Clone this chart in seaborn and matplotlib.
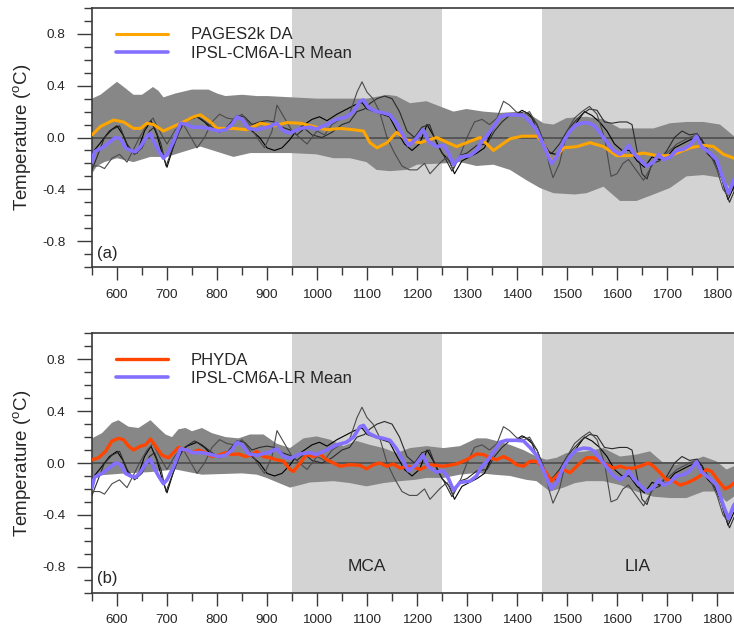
import numpy as np
import matplotlib
matplotlib.use("Agg")
import matplotlib.pyplot as plt
import seaborn as sns
from matplotlib.ticker import MultipleLocator

# ---- values ----
# IPSL-CM6A-LR ensemble mean (same in both panels)
mean_years = [550, 555, 570, 587, 597, 607, 617, 627, 637, 647, 660, 667, 673, 683, 693, 700,
              713, 727, 740, 750, 770, 783, 803, 817, 830, 840, 850, 863, 880, 906, 919, 933,
              946, 966, 986, 999, 1019, 1039, 1059, 1073, 1086, 1093, 1103, 1119, 1133, 1146,
              1159, 1173, 1183, 1196, 1212, 1223, 1239, 1253, 1263, 1273, 1286, 1306, 1319,
              1329, 1339, 1356, 1366, 1379, 1399, 1413, 1426, 1439, 1453, 1463, 1469, 1479,
              1493, 1506, 1519, 1533, 1546, 1556, 1566, 1579, 1593, 1606, 1616, 1623, 1633,
              1646, 1659, 1673, 1683, 1693, 1706, 1719, 1733, 1746, 1759, 1769, 1786, 1799,
              1813, 1823, 1833, 1845]
mean_vals = [-0.19, -0.11, -0.08, -0.03, 0.00, -0.01, -0.08, -0.10, -0.11, -0.07, 0.01, 0.03,
             -0.03, -0.10, -0.16, -0.13, -0.03, 0.11, 0.10, 0.08, 0.08, 0.07, 0.05, 0.06, 0.10,
             0.16, 0.14, 0.07, 0.06, 0.085, 0.11, 0.05, 0.035, 0.07, 0.08, 0.065, 0.10, 0.14,
             0.16, 0.20, 0.28, 0.29, 0.23, 0.20, 0.19, 0.175, 0.11, 0.01, -0.06, -0.02, 0.06,
             -0.03, -0.07, -0.06, -0.12, -0.21, -0.15, -0.14, -0.10, -0.03, 0.01, 0.10, 0.16,
             0.175, 0.175, 0.17, 0.12, 0.06, -0.06, -0.15, -0.20, -0.15, -0.03, 0.05, 0.10,
             0.115, 0.11, 0.085, 0.035, -0.03, -0.10, -0.13, -0.10, -0.06, -0.12, -0.17, -0.22,
             -0.19, -0.13, -0.17, -0.15, -0.10, -0.09, -0.06, 0.01, -0.07, -0.12, -0.17, -0.33,
             -0.43, -0.33, -0.26]

# three individual members
m1_years = [550, 565, 585, 600, 612, 625, 640, 655, 668, 680, 690, 700, 712, 725, 740, 760, 775,
            790, 810, 825, 840, 855, 870, 885, 900, 915, 930, 945, 960, 975, 990, 1005, 1020,
            1040, 1060, 1075, 1090, 1100, 1115, 1130, 1145, 1160, 1175, 1190, 1205, 1220, 1235,
            1250, 1265, 1275, 1290, 1305, 1320, 1335, 1350, 1365, 1380, 1395, 1410, 1425, 1440,
            1455, 1465, 1478, 1490, 1505, 1520, 1535, 1550, 1565, 1580, 1595, 1610, 1625, 1640,
            1655, 1670, 1685, 1700, 1715, 1730, 1745, 1760, 1770, 1780, 1795, 1810, 1822, 1834,
            1845]
m1_vals = [-0.12, -0.05, 0.05, 0.09, 0.02, -0.10, -0.12, 0.05, 0.13, 0.02, -0.12, -0.23, -0.08,
           0.08, 0.13, 0.16, 0.12, 0.06, 0.05, 0.10, 0.17, 0.12, 0.05, 0.00, -0.08, -0.10, -0.08,
           -0.02, 0.06, 0.10, 0.14, 0.16, 0.13, 0.18, 0.22, 0.25, 0.27, 0.22, 0.20, 0.18, 0.16,
           0.05, -0.05, -0.10, -0.05, 0.10, 0.00, -0.12, -0.18, -0.28, -0.18, -0.15, -0.12,
           -0.08, 0.05, 0.15, 0.18, 0.17, 0.21, 0.18, 0.10, -0.05, -0.12, -0.13, -0.08, 0.05,
           0.12, 0.20, 0.17, 0.12, 0.05, -0.05, -0.10, -0.10, -0.18, -0.23, -0.15, -0.17, -0.15,
           -0.08, -0.05, -0.02, 0.00, -0.02, -0.12, -0.18, -0.32, -0.48, -0.38, -0.30]

m2_years = [550, 560, 575, 590, 605, 620, 635, 650, 665, 675, 688, 698, 710, 725, 735, 755, 770,
            790, 805, 820, 840, 855, 870, 885, 900, 915, 930, 945, 960, 975, 990, 1010, 1030,
            1050, 1065, 1080, 1095, 1105, 1120, 1135, 1150, 1165, 1180, 1195, 1210, 1225, 1240,
            1255, 1270, 1285, 1300, 1320, 1340, 1355, 1370, 1385, 1400, 1415, 1430, 1445, 1460,
            1470, 1485, 1500, 1515, 1530, 1545, 1560, 1575, 1590, 1605, 1620, 1630, 1640, 1650,
            1660, 1670, 1685, 1700, 1715, 1730, 1745, 1760, 1770, 1790, 1805, 1815, 1825, 1834,
            1845]
m2_vals = [-0.25, -0.15, 0.00, 0.06, 0.09, -0.05, -0.13, -0.08, 0.05, 0.08, -0.05, -0.22, -0.10,
           0.05, 0.12, 0.17, 0.14, 0.08, 0.04, 0.08, 0.17, 0.16, 0.10, 0.12, 0.13, 0.12, 0.08,
           0.06, 0.02, 0.07, 0.02, 0.00, 0.04, 0.10, 0.12, 0.20, 0.22, 0.26, 0.30, 0.32, 0.30,
           0.20, 0.05, 0.00, 0.08, 0.10, -0.05, -0.15, -0.26, -0.14, -0.12, -0.06, -0.05, 0.05,
           0.12, 0.17, 0.18, 0.20, 0.15, 0.00, -0.10, -0.12, -0.05, 0.05, 0.12, 0.18, 0.22,
           0.21, 0.12, 0.11, 0.12, 0.12, 0.10, -0.10, -0.28, -0.32, -0.20, -0.18, -0.10, 0.00,
           0.05, 0.02, 0.03, -0.02, -0.15, -0.25, -0.40, -0.50, -0.42, -0.35]

m3_years = [550, 565, 575, 590, 605, 620, 632, 645, 660, 672, 685, 700, 715, 730, 745, 760, 775,
            790, 805, 820, 835, 850, 865, 880, 895, 910, 920, 935, 950, 965, 980, 1000, 1015,
            1030, 1050, 1065, 1080, 1090, 1100, 1112, 1125, 1140, 1155, 1170, 1185, 1200, 1215,
            1226, 1245, 1260, 1272, 1285, 1300, 1315, 1330, 1345, 1360, 1373, 1385, 1398, 1410,
            1425, 1440, 1455, 1465, 1472, 1485, 1500, 1515, 1530, 1545, 1560, 1575, 1588, 1600,
            1612, 1623, 1638, 1653, 1665, 1680, 1700, 1720, 1745, 1760, 1770, 1785, 1800, 1812,
            1822, 1834, 1845]
m3_vals = [-0.22, -0.22, -0.24, -0.16, -0.13, -0.19, -0.10, 0.00, 0.10, 0.15, 0.05, -0.05, 0.05,
           0.12, 0.02, -0.08, 0.00, 0.12, 0.18, 0.15, 0.14, 0.18, 0.10, 0.00, -0.08, 0.05, 0.25,
           0.15, 0.05, 0.00, -0.05, 0.05, 0.02, 0.10, 0.15, 0.18, 0.35, 0.43, 0.35, 0.30, 0.20,
           0.00, -0.12, -0.22, -0.25, -0.25, -0.20, -0.28, -0.20, -0.15, -0.25, -0.15, 0.00,
           0.12, 0.14, 0.10, 0.15, 0.28, 0.25, 0.20, 0.17, 0.20, 0.10, -0.05, -0.22, -0.31,
           -0.20, 0.05, 0.15, 0.20, 0.24, 0.18, 0.00, -0.30, -0.28, -0.20, -0.17, -0.25, -0.33,
           -0.25, -0.15, -0.12, -0.05, 0.00, 0.02, -0.05, -0.12, -0.25, -0.40, -0.45, -0.35,
           -0.30]

# PAGES2k DA reconstruction and its range
pages_years = [550, 567, 593, 613, 633, 647, 660, 673, 693, 713, 733, 753, 767, 787, 800, 833, 860,
               887, 913, 940, 967, 993, 1020, 1047, 1073, 1093, 1106, 1120, 1140, 1159, 1180,
               1206, 1239, 1279, 1306, 1326, 1353, 1386, 1410, 1440, 1452, 1469, 1493, 1520,
               1546, 1573, 1599, 1626, 1653, 1680, 1706, 1746, 1773, 1793, 1813, 1834, 1845]
pages_vals = [0.02, 0.085, 0.135, 0.12, 0.07, 0.07, 0.11, 0.10, 0.05, 0.085, 0.12, 0.16, 0.175,
              0.12, 0.07, 0.07, 0.06, 0.11, 0.09, 0.115, 0.11, 0.085, 0.06, 0.07, 0.06, 0.05,
              -0.04, -0.08, -0.04, 0.04, -0.02, -0.04, 0.00, -0.07, -0.03, 0.00, -0.10, -0.01,
              0.01, 0.01, -0.04, -0.19, -0.08, -0.07, -0.04, -0.07, -0.14, -0.14, -0.12, -0.14,
              -0.14, -0.08, -0.06, -0.07, -0.13, -0.16, -0.16]
pages_up_years = [550, 567, 600, 617, 633, 650, 672, 683, 693, 717, 750, 783, 800, 817, 850, 880,
                  900, 950, 1000, 1033, 1100, 1140, 1159, 1186, 1219, 1246, 1273, 1299, 1333,
                  1366, 1406, 1433, 1453, 1473, 1499, 1539, 1573, 1606, 1640, 1673, 1706, 1739,
                  1773, 1806, 1834, 1845]
pages_up_vals = [0.30, 0.33, 0.43, 0.38, 0.33, 0.33, 0.39, 0.36, 0.31, 0.34, 0.37, 0.37, 0.34,
                 0.32, 0.33, 0.32, 0.32, 0.31, 0.30, 0.30, 0.30, 0.33, 0.32, 0.265, 0.28, 0.24,
                 0.20, 0.22, 0.20, 0.19, 0.20, 0.16, 0.11, 0.10, 0.15, 0.16, 0.14, 0.07, 0.07,
                 0.07, 0.11, 0.12, 0.12, 0.10, 0.01, -0.01]
pages_lo_years = [550, 560, 575, 600, 633, 667, 700, 733, 767, 800, 833, 867, 900, 946, 999, 1033,
                  1066, 1099, 1119, 1146, 1179, 1200, 1253, 1286, 1319, 1353, 1386, 1419, 1446,
                  1473, 1516, 1539, 1573, 1606, 1639, 1673, 1706, 1739, 1773, 1806, 1834, 1845]
pages_lo_vals = [-0.28, -0.22, -0.19, -0.16, -0.19, -0.15, -0.15, -0.11, -0.07, -0.11, -0.15,
                 -0.12, -0.12, -0.12, -0.13, -0.16, -0.16, -0.19, -0.25, -0.26, -0.25, -0.21,
                 -0.20, -0.19, -0.22, -0.21, -0.25, -0.33, -0.39, -0.43, -0.44, -0.43, -0.38,
                 -0.49, -0.49, -0.44, -0.39, -0.30, -0.29, -0.31, -0.42, -0.44]

# PHYDA reconstruction and its range
phyda_years = [550, 563, 577, 590, 603, 613, 623, 633, 647, 657, 667, 677, 690, 703, 713, 723, 737,
               750, 763, 777, 790, 803, 817, 830, 843, 857, 870, 879, 893, 906, 919, 933, 946,
               953, 966, 979, 993, 1006, 1019, 1033, 1046, 1066, 1086, 1099, 1113, 1126, 1139,
               1153, 1166, 1179, 1196, 1206, 1226, 1253, 1279, 1299, 1319, 1333, 1346, 1359,
               1373, 1386, 1399, 1413, 1426, 1439, 1449, 1459, 1469, 1479, 1493, 1506, 1526,
               1539, 1553, 1566, 1579, 1593, 1606, 1619, 1633, 1646, 1663, 1673, 1686, 1699,
               1713, 1726, 1739, 1753, 1766, 1779, 1789, 1803, 1816, 1826, 1834, 1845]
phyda_vals = [0.025, 0.04, 0.09, 0.17, 0.19, 0.18, 0.13, 0.10, 0.13, 0.14, 0.185, 0.13, 0.06,
              0.04, 0.08, 0.12, 0.10, 0.08, 0.10, 0.08, 0.05, 0.06, 0.08, 0.065, 0.07, 0.05,
              0.065, 0.09, 0.05, 0.04, 0.025, 0.013, -0.05, -0.065, 0.00, 0.065, 0.05, 0.07,
              0.025, 0.00, -0.025, -0.013, -0.018, -0.045, -0.013, 0.00, -0.025, -0.008, -0.04,
              -0.025, -0.035, -0.05, -0.013, -0.025, -0.008, 0.025, 0.07, 0.065, 0.04, 0.025,
              0.05, 0.025, -0.013, -0.025, 0.013, 0.013, -0.025, -0.08, -0.14, -0.10, -0.05,
              -0.075, 0.00, 0.04, 0.04, 0.013, -0.013, -0.04, -0.025, -0.04, -0.04, -0.025, 0.00,
              -0.025, -0.075, -0.13, -0.14, -0.17, -0.155, -0.13, -0.10, -0.05, -0.065, -0.14,
              -0.20, -0.18, -0.155, -0.16]
phyda_up_years = [550, 570, 590, 603, 623, 643, 667, 683, 697, 710, 723, 737, 750, 770, 790, 817,
                  843, 866, 893, 919, 946, 973, 999, 1026, 1053, 1079, 1106, 1133, 1159, 1186,
                  1219, 1253, 1286, 1319, 1339, 1359, 1386, 1413, 1439, 1459, 1479, 1499, 1539,
                  1573, 1606, 1639, 1666, 1693, 1719, 1746, 1773, 1799, 1819, 1834, 1845]
phyda_up_vals = [0.19, 0.23, 0.31, 0.33, 0.28, 0.27, 0.33, 0.27, 0.22, 0.20, 0.26, 0.27, 0.245,
                 0.27, 0.23, 0.20, 0.19, 0.22, 0.22, 0.15, 0.115, 0.19, 0.205, 0.18, 0.13, 0.17,
                 0.14, 0.115, 0.077, 0.115, 0.13, 0.115, 0.13, 0.19, 0.19, 0.17, 0.14, 0.10,
                 0.05, 0.025, 0.04, 0.077, 0.09, 0.115, 0.05, 0.065, 0.09, 0.00, -0.013, 0.013,
                 0.05, 0.013, -0.05, -0.025, -0.03]
phyda_lo_years = [550, 617, 667, 717, 770, 850, 880, 899, 946, 986, 1033, 1066, 1099, 1133, 1166,
                  1196, 1219, 1253, 1286, 1319, 1353, 1386, 1419, 1439, 1466, 1493, 1516, 1539,
                  1573, 1606, 1639, 1673, 1706, 1739, 1773, 1799, 1819, 1834, 1845]
phyda_lo_vals = [-0.10, -0.08, -0.07, -0.05, -0.09, -0.08, -0.09, -0.115, -0.19, -0.15, -0.14,
                 -0.155, -0.18, -0.155, -0.14, -0.13, -0.115, -0.115, -0.09, -0.077, -0.09,
                 -0.10, -0.13, -0.14, -0.22, -0.19, -0.155, -0.14, -0.14, -0.17, -0.22, -0.26,
                 -0.27, -0.27, -0.22, -0.22, -0.30, -0.26, -0.27]

periods = [(950, 1250, "MCA"), (1450, 1850, "LIA")]

sns.set_theme(style="white")
plt.rcParams["font.family"] = ["Liberation Sans", "DejaVu Sans"]
plt.rcParams["mathtext.fontset"] = "custom"
plt.rcParams["mathtext.rm"] = "Liberation Sans"

EDGE = "#3a3a3a"
BAND = "#878787"
SHADE = "#d3d3d3"
BLUE = "#8470ff"

fig = plt.figure(figsize=(7.34, 6.35), dpi=100)
ax_a = fig.add_axes([92 / 734, 1 - 267 / 635, 650 / 734, 259 / 635])
ax_b = fig.add_axes([92 / 734, 1 - 592.7 / 635, 650 / 734, 259.4 / 635])

panels = [
    (ax_a, "(a)", "PAGES2k DA", "#ffa500", 2.2, pages_years, pages_vals,
     pages_up_years, pages_up_vals, pages_lo_years, pages_lo_vals, False),
    (ax_b, "(b)", "PHYDA", "#ff4500", 2.4, phyda_years, phyda_vals,
     phyda_up_years, phyda_up_vals, phyda_lo_years, phyda_lo_vals, True),
]

for (ax, tag, rec_name, rec_col, rec_lw, ry, rv, uy, uv, ly, lv, show_periods) in panels:
    for p0, p1, _ in periods:
        ax.axvspan(p0, p1, color=SHADE, lw=0, zorder=0)

    # reconstruction range
    ax.fill(np.r_[uy, ly[::-1]], np.r_[uv, lv[::-1]], color=BAND, lw=0, zorder=1)
    ax.axhline(0, color="#555555", lw=1.4, zorder=2)

    for yrs, vals, col in [(m1_years, m1_vals, "#000000"),
                           (m2_years, m2_vals, "#2a2a2a"),
                           (m3_years, m3_vals, "#4a4a4a")]:
        sns.lineplot(x=yrs, y=vals, ax=ax, color=col, lw=0.8, estimator=None, zorder=3)

    sns.lineplot(x=ry, y=rv, ax=ax, color=rec_col, lw=rec_lw, estimator=None,
                 label=rec_name, zorder=4)
    sns.lineplot(x=mean_years, y=mean_vals, ax=ax, color=BLUE, lw=2.6, estimator=None,
                 label="IPSL-CM6A-LR Mean", zorder=5)

    ax.set_xlim(550, 1850)
    ax.set_ylim(-1.0, 1.0)
    ax.xaxis.set_minor_locator(MultipleLocator(50))
    ax.yaxis.set_minor_locator(MultipleLocator(0.1))
    ax.set_xticks(np.arange(600, 1801, 100))
    ax.set_yticks([-0.8, -0.4, 0.0, 0.4, 0.8])
    ax.set_yticklabels(["-0.8", "-0.4", "0.0", "0.4", "0.8"])

    ax.tick_params(axis="x", which="major", direction="out", length=9.5, width=1,
                   color=EDGE, pad=6, labelsize=9.7, bottom=True)
    ax.tick_params(axis="y", which="major", direction="out", length=11, width=1,
                   color=EDGE, pad=8, labelsize=9.7, left=True)
    ax.tick_params(which="minor", direction="out", length=5.5, width=1, color=EDGE,
                   bottom=True, left=True)
    ax.tick_params(top=False, right=False, which="both")

    for s in ax.spines.values():
        s.set_color(EDGE)
        s.set_linewidth(1.2)

    ax.set_xlabel("")
    ax.set_ylabel(r"Temperature ($^\mathrm{o}$C)", fontsize=13.5)
    ax.yaxis.set_label_coords(-0.09, 0.5)

    ax.text(0.008, 0.025, tag, transform=ax.transAxes, fontsize=12, ha="left", va="bottom")

    if show_periods:
        for p0, p1, name in periods:
            mid = (p0 + min(p1, 1834)) / 2
            ax.text(mid, -0.8, name, fontsize=12.5, ha="center", va="center")

    leg = ax.legend(loc="upper left", bbox_to_anchor=(0.037, 0.925), frameon=False,
                    fontsize=12, handlelength=3.1, handletextpad=1.4, labelspacing=0.2,
                    borderpad=0, borderaxespad=0)

fig.savefig("out.png", dpi=100)
